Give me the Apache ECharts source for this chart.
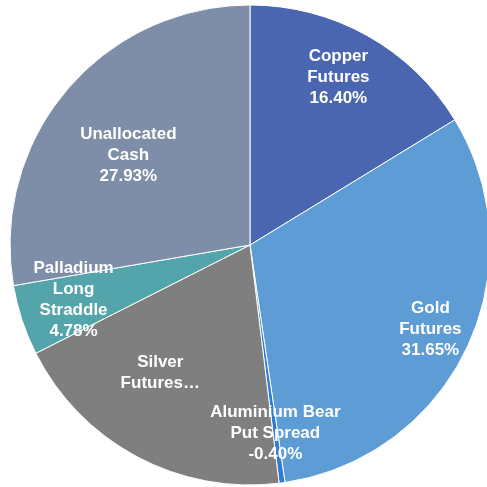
<!DOCTYPE html>
<html>
<head>
<meta charset="utf-8">
<script src="https://cdn.jsdelivr.net/npm/echarts@6/dist/echarts.min.js"></script>
<style>
  html, body { margin: 0; padding: 0; background: #ffffff; }
  #chart { width: 487px; height: 487px; }
</style>
</head>
<body>
<div id="chart"></div>
<script>
// Portfolio allocation (% of net assets)
const categories = ['Copper Futures', 'Gold Futures', 'Aluminium Bear Put Spread', 'Silver Futures', 'Palladium Long Straddle', 'Unallocated Cash'];
const values = [16.40, 31.65, -0.40, 19.64, 4.78, 27.93];
const labelNames = ['Copper\nFutures', 'Gold\nFutures', 'Aluminium Bear\nPut Spread', 'Silver\nFutures…', 'Palladium\nLong\nStraddle', 'Unallocated\nCash'];
const showPercent = [true, true, true, false, true, true];

// Styling
const colors = ['#4a66b0', '#5d9cd4', '#2e7bd8', '#7f7f7f', '#54a4ab', '#7e8ea9'];
const labelRadius = [0.79, 0.83, 0.79, 0.65, 0.77, 0.63];
const labelAngleShift = [-1.5, 0, 0, 7, 1, -3.7];

const CX = 250, CY = 245, R = 240;

const absVals = values.map(v => Math.abs(v));
const total = absVals.reduce((a, b) => a + b, 0);
const midAngles = [];
let acc = 0;
absVals.forEach(v => { midAngles.push((acc + v / 2) / total * 360); acc += v; });

const chart = echarts.init(document.getElementById('chart'), null, { renderer: 'canvas' });
chart.setOption({
  animation: false,
  backgroundColor: '#ffffff',
  series: [{
    type: 'pie',
    center: [CX, CY],
    radius: [0, R],
    startAngle: 90,
    clockwise: true,
    avoidLabelOverlap: false,
    itemStyle: { borderColor: '#ffffff', borderWidth: 1 },
    label: {
      show: true,
      position: 'inside',
      color: '#ffffff',
      fontFamily: '"Liberation Sans", Arial, sans-serif',
      fontWeight: 'bold',
      fontSize: 17,
      lineHeight: 21,
      align: 'center',
      formatter: p => {
        const i = p.dataIndex;
        return labelNames[i] + (showPercent[i] ? '\n' + values[i].toFixed(2) + '%' : '');
      }
    },
    labelLine: { show: false },
    labelLayout: p => {
      const i = p.dataIndex;
      const a = (midAngles[i] + labelAngleShift[i]) * Math.PI / 180;
      const r = R * labelRadius[i];
      return {
        x: CX + r * Math.sin(a),
        y: CY - r * Math.cos(a),
        align: 'center',
        verticalAlign: 'middle'
      };
    },
    data: categories.map((c, i) => ({
      name: c,
      value: absVals[i],
      itemStyle: { color: colors[i] }
    }))
  }]
});
</script>
</body>
</html>
